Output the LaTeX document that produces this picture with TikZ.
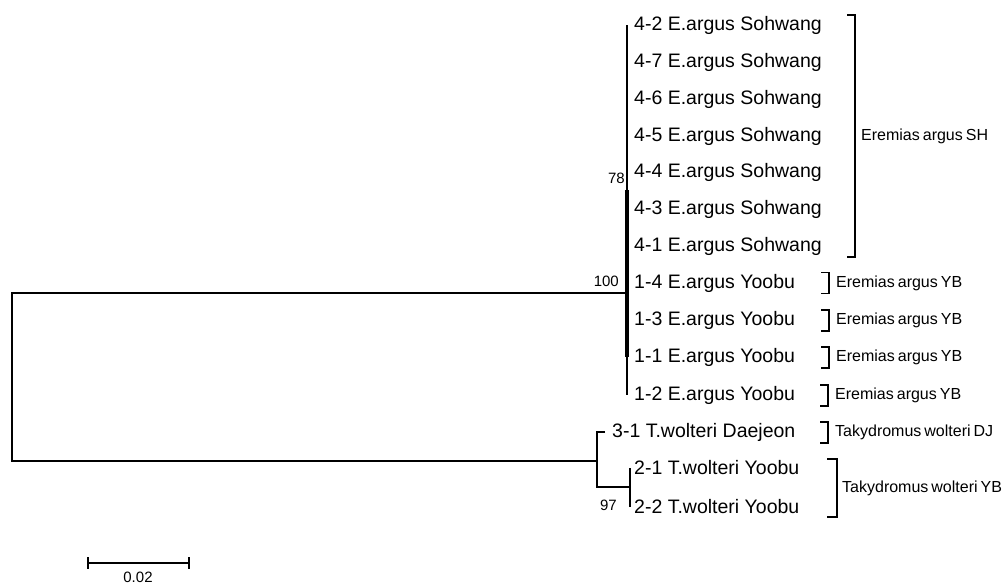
\documentclass[tikz,border=0pt]{standalone}
\usepackage{fontspec}
\setmainfont{Liberation Sans}
\usepackage{tikz}

\tikzset{
  branch/.style={line width=1.8pt},
  trunk/.style={line width=3.6pt},
  bracket/.style={line width=1.8pt},
  leaf/.style={anchor=west, inner sep=0pt, font=\fontsize{19.5}{22}\selectfont},
  group/.style={anchor=west, inner sep=0pt, font=\fontsize{16}{18}\selectfont,
    execute at begin node={\spaceskip=3pt\relax}},
  boot/.style={anchor=east, inner sep=0pt, font=\fontsize{15}{17}\selectfont},
}

\begin{document}
\begin{tikzpicture}[x=1pt,y=-1pt]
        \useasboundingbox (0,0) rectangle (1007,584);

        % Leaves
        \node[leaf] (s42) at (634,25) {4-2 E.argus Sohwang};
        \node[leaf] (s47) at (634,62) {4-7 E.argus Sohwang};
        \node[leaf] (s46) at (634,99) {4-6 E.argus Sohwang};
        \node[leaf] (s45) at (634,136) {4-5 E.argus Sohwang};
        \node[leaf] (s44) at (634,172) {4-4 E.argus Sohwang};
        \node[leaf] (s43) at (634,209) {4-3 E.argus Sohwang};
        \node[leaf] (s41) at (634,246) {4-1 E.argus Sohwang};
        \node[leaf] (y14) at (634,283) {1-4 E.argus Yoobu};
        \node[leaf] (y13) at (634,320) {1-3 E.argus Yoobu};
        \node[leaf] (y11) at (634,357) {1-1 E.argus Yoobu};
        \node[leaf] (y12) at (634,395) {1-2 E.argus Yoobu};
        \node[leaf] (d31) at (612,432) {3-1 T.wolteri Daejeon};
        \node[leaf] (w21) at (634,468) {2-1 T.wolteri Yoobu};
        \node[leaf] (w22) at (634,507) {2-2 T.wolteri Yoobu};

        % Inner nodes
        \coordinate (root) at (12,377);
        \coordinate (ea) at (627,293);
        \coordinate (n78) at (627,190);
        \coordinate (tw) at (597,461);
        \coordinate (twyb) at (630,487);

        % Branches
        \draw[branch] (ea) -| (root) |- (tw);
        \draw[branch] (ea |- s42.west) -- (ea |- y12.west);
        \draw[trunk] (n78) -- (ea |- y11.west);
        \draw[branch] ([xshift=-7pt]d31.west) -| (tw) |- (twyb);
        \draw[branch] (twyb |- w21.west) -- (twyb |- w22.west);

        % Bootstrap values
        \node[boot] (bs78) at (625,178) {78};
        \node[boot] (bs100) at (619,281) {100};
        \node[boot] (bs97) at (617,505) {97};

        % Group brackets
        \draw[bracket] (847,15) -| (855,257) -- (847,257);
        \draw[bracket] (821,272.5) -| (829,293.5) -- (821,293.5);
        \draw[bracket] (821,310) -| (829,331) -- (821,331);
        \draw[bracket] (821,347) -| (829,368) -- (821,368);
        \draw[bracket] (820,385) -| (828,406) -- (820,406);
        \draw[bracket] (820,422) -| (828,443) -- (820,443);
        \draw[bracket] (827,459) -| (837,517) -- (827,517);

        % Group labels
        \node[group] (gsh) at (861,136) {Eremias argus SH};
        \node[group] (gyb1) at (836,283) {Eremias argus YB};
        \node[group] (gyb2) at (836,320) {Eremias argus YB};
        \node[group] (gyb3) at (836,357) {Eremias argus YB};
        \node[group] (gyb4) at (835,395) {Eremias argus YB};
        \node[group] (gdj) at (835,432) {Takydromus wolteri DJ};
        \node[group] (gtyb) at (842,488) {Takydromus wolteri YB};

        % Scale bar
        \coordinate (sbl) at (88,563);
        \coordinate (sbr) at (189,563);
        \draw[branch] (sbl) -- (sbr);
        \draw[branch] ([yshift=6pt]sbl) -- ([yshift=-6pt]sbl);
        \draw[branch] ([yshift=6pt]sbr) -- ([yshift=-6pt]sbr);
        \node[font=\fontsize{15}{17}\selectfont, inner sep=0pt] (scl) at (138,577) {0.02};
    \end{tikzpicture}
\end{document}
